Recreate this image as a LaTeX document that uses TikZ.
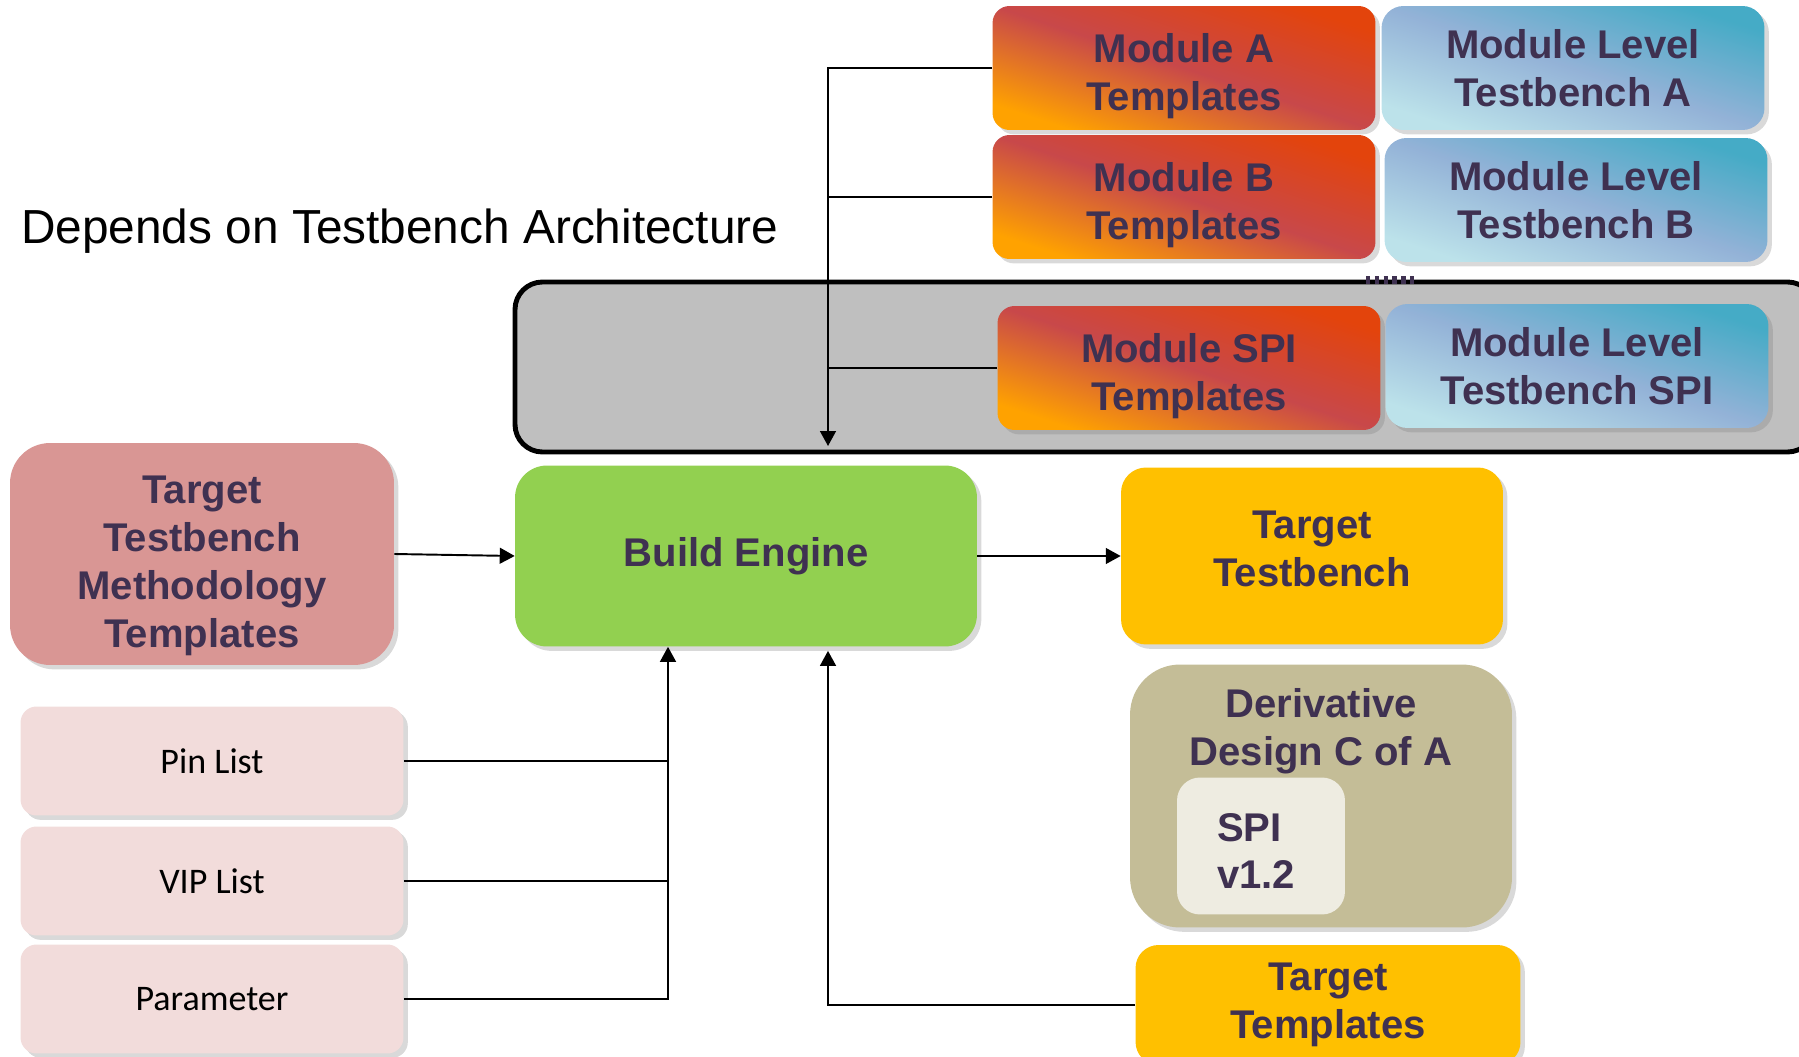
\documentclass[tikz,border=0pt]{standalone}
\usepackage{fontspec}
\setmainfont{Liberation Sans}
\newfontfamily\listfamily{Carlito}
\usetikzlibrary{shadows,arrows.meta}

\definecolor{txtcol}{HTML}{3F3151}
\definecolor{modtop}{HTML}{E3440C}
\definecolor{modmid}{HTML}{C8484A}
\definecolor{modbot}{HTML}{FFA200}
\definecolor{tbtop}{HTML}{45ABC6}
\definecolor{tbmid}{HTML}{93B2D7}
\definecolor{tbbot}{HTML}{BCE2EA}
\definecolor{pinkfill}{HTML}{D99694}
\definecolor{greenfill}{HTML}{92D050}
\definecolor{yellowfill}{HTML}{FFC000}
\definecolor{tanfill}{HTML}{C4BD97}
\definecolor{creamfill}{HTML}{EEECE1}
\definecolor{listfill}{HTML}{F2DCDB}
\definecolor{contgray}{HTML}{BFBFBF}

\newcommand{\dnstrut}[1]{\rule{0pt}{#1}}

\begin{document}
\begin{tikzpicture}[x=0.02cm,y=-0.02cm,>={Triangle[length=8.5pt,width=9pt]},
  lbl/.style={font=\fontsize{22.8pt}{27.3pt}\selectfont\bfseries,text=txtcol,align=center},
  blk/.style={lbl,minimum width=7.66cm,minimum height=2.48cm,
    drop shadow={shadow xshift=2.5pt,shadow yshift=-2.5pt,opacity=.3}},
  modbox/.style={blk,rounded corners=0.34cm,top color=modtop,bottom color=modbot,
    middle color=modmid,shading angle=-18},
  tbbox/.style={blk,rounded corners=0.44cm,top color=tbtop,bottom color=tbbot,
    middle color=tbmid,shading angle=-18},
  listbox/.style={blk,fill=listfill,rounded corners=0.32cm,minimum height=2.18cm,
    font=\fontsize{20.5pt}{24pt}\selectfont\listfamily,text=black},
  conn/.style={line width=1.1pt}]
\useasboundingbox (0,0) rectangle (1799,1057);

\draw[line width=2.8pt,fill=contgray,rounded corners=0.55cm] (515,282) rectangle (1815,452);
\draw[txtcol,line width=4pt,dash pattern=on 2.5pt off 2.5pt] (1366,280) -- (1414,280);

\node[anchor=west,font=\fontsize{27.2pt}{32pt}\selectfont] (title) at (15,231) {Depends on Testbench Architecture};

\node[modbox] (modA) at (1184,68) {\dnstrut{26pt}Module A\\Templates};
\node[tbbox] (tbA) at (1573,68) {Module Level\\Testbench A};
\node[modbox] (modB) at (1184,197) {\dnstrut{26pt}Module B\\Templates};
\node[tbbox] (tbB) at (1576,200) {Module Level\\Testbench B};
\node[modbox] (modSPI) at (1189,368) {\dnstrut{26pt}Module SPI\\Templates};
\node[tbbox] (tbSPI) at (1577,366) {Module Level\\Testbench SPI};

\node[blk,fill=pinkfill,rounded corners=0.8cm,minimum width=7.68cm,minimum height=4.44cm] (ttm) at (202,554) {\dnstrut{29.6pt}Target\\Testbench\\Methodology\\Templates};
\node[blk,fill=greenfill,rounded corners=0.64cm,minimum width=9.24cm,minimum height=3.62cm] (build) at (746,556) {Build Engine};
\node[blk,fill=yellowfill,rounded corners=0.5cm,minimum width=7.64cm,minimum height=3.54cm] (ttb) at (1312,556) {Target\\Testbench\rule[-7.8pt]{0pt}{7.8pt}};

\node[blk,fill=tanfill,rounded corners=1cm,minimum width=7.64cm,minimum height=5.26cm] (deriv) at (1321,796) {};
\node[lbl] (derivtxt) at (1321,731) {Derivative\\Design C of A};
\node[fill=creamfill,rounded corners=0.46cm,minimum width=3.36cm,minimum height=2.74cm] (spi) at (1261,846) {};
\node[lbl,align=left,anchor=west] (spitxt) at (1211,851) {SPI\\v1.2};

\node[blk,fill=yellowfill,rounded corners=0.46cm,minimum width=7.7cm,minimum height=2.4cm] (ttpl) at (1328,1005) {Target\\Templates};

\node[listbox] (pin) at (212,761) {Pin List};
\node[listbox] (vip) at (212,881) {VIP List};
\node[listbox] (param) at (212,999) {Parameter};

\coordinate (spine) at (828,446);
\coordinate (bus) at (668,0);

\draw[conn,->] (modA.west) -| (spine);
\draw[conn] (modB.west) -- (modB.west -| spine);
\draw[conn] (modSPI.west) -- (modSPI.west -| spine);

\draw[conn,->] (ttm.east) -- (build.west);
\draw[conn,->] (build.east) -- (ttb.west);

\draw[conn,->] (param.east) -| (build.south -| bus);
\draw[conn] (pin.east) -- (pin.east -| bus);
\draw[conn] (vip.east) -- (vip.east -| bus);

\draw[conn,->] (ttpl.west) -| ([yshift=-2.3pt]build.south -| spine);
\end{tikzpicture}
\end{document}
